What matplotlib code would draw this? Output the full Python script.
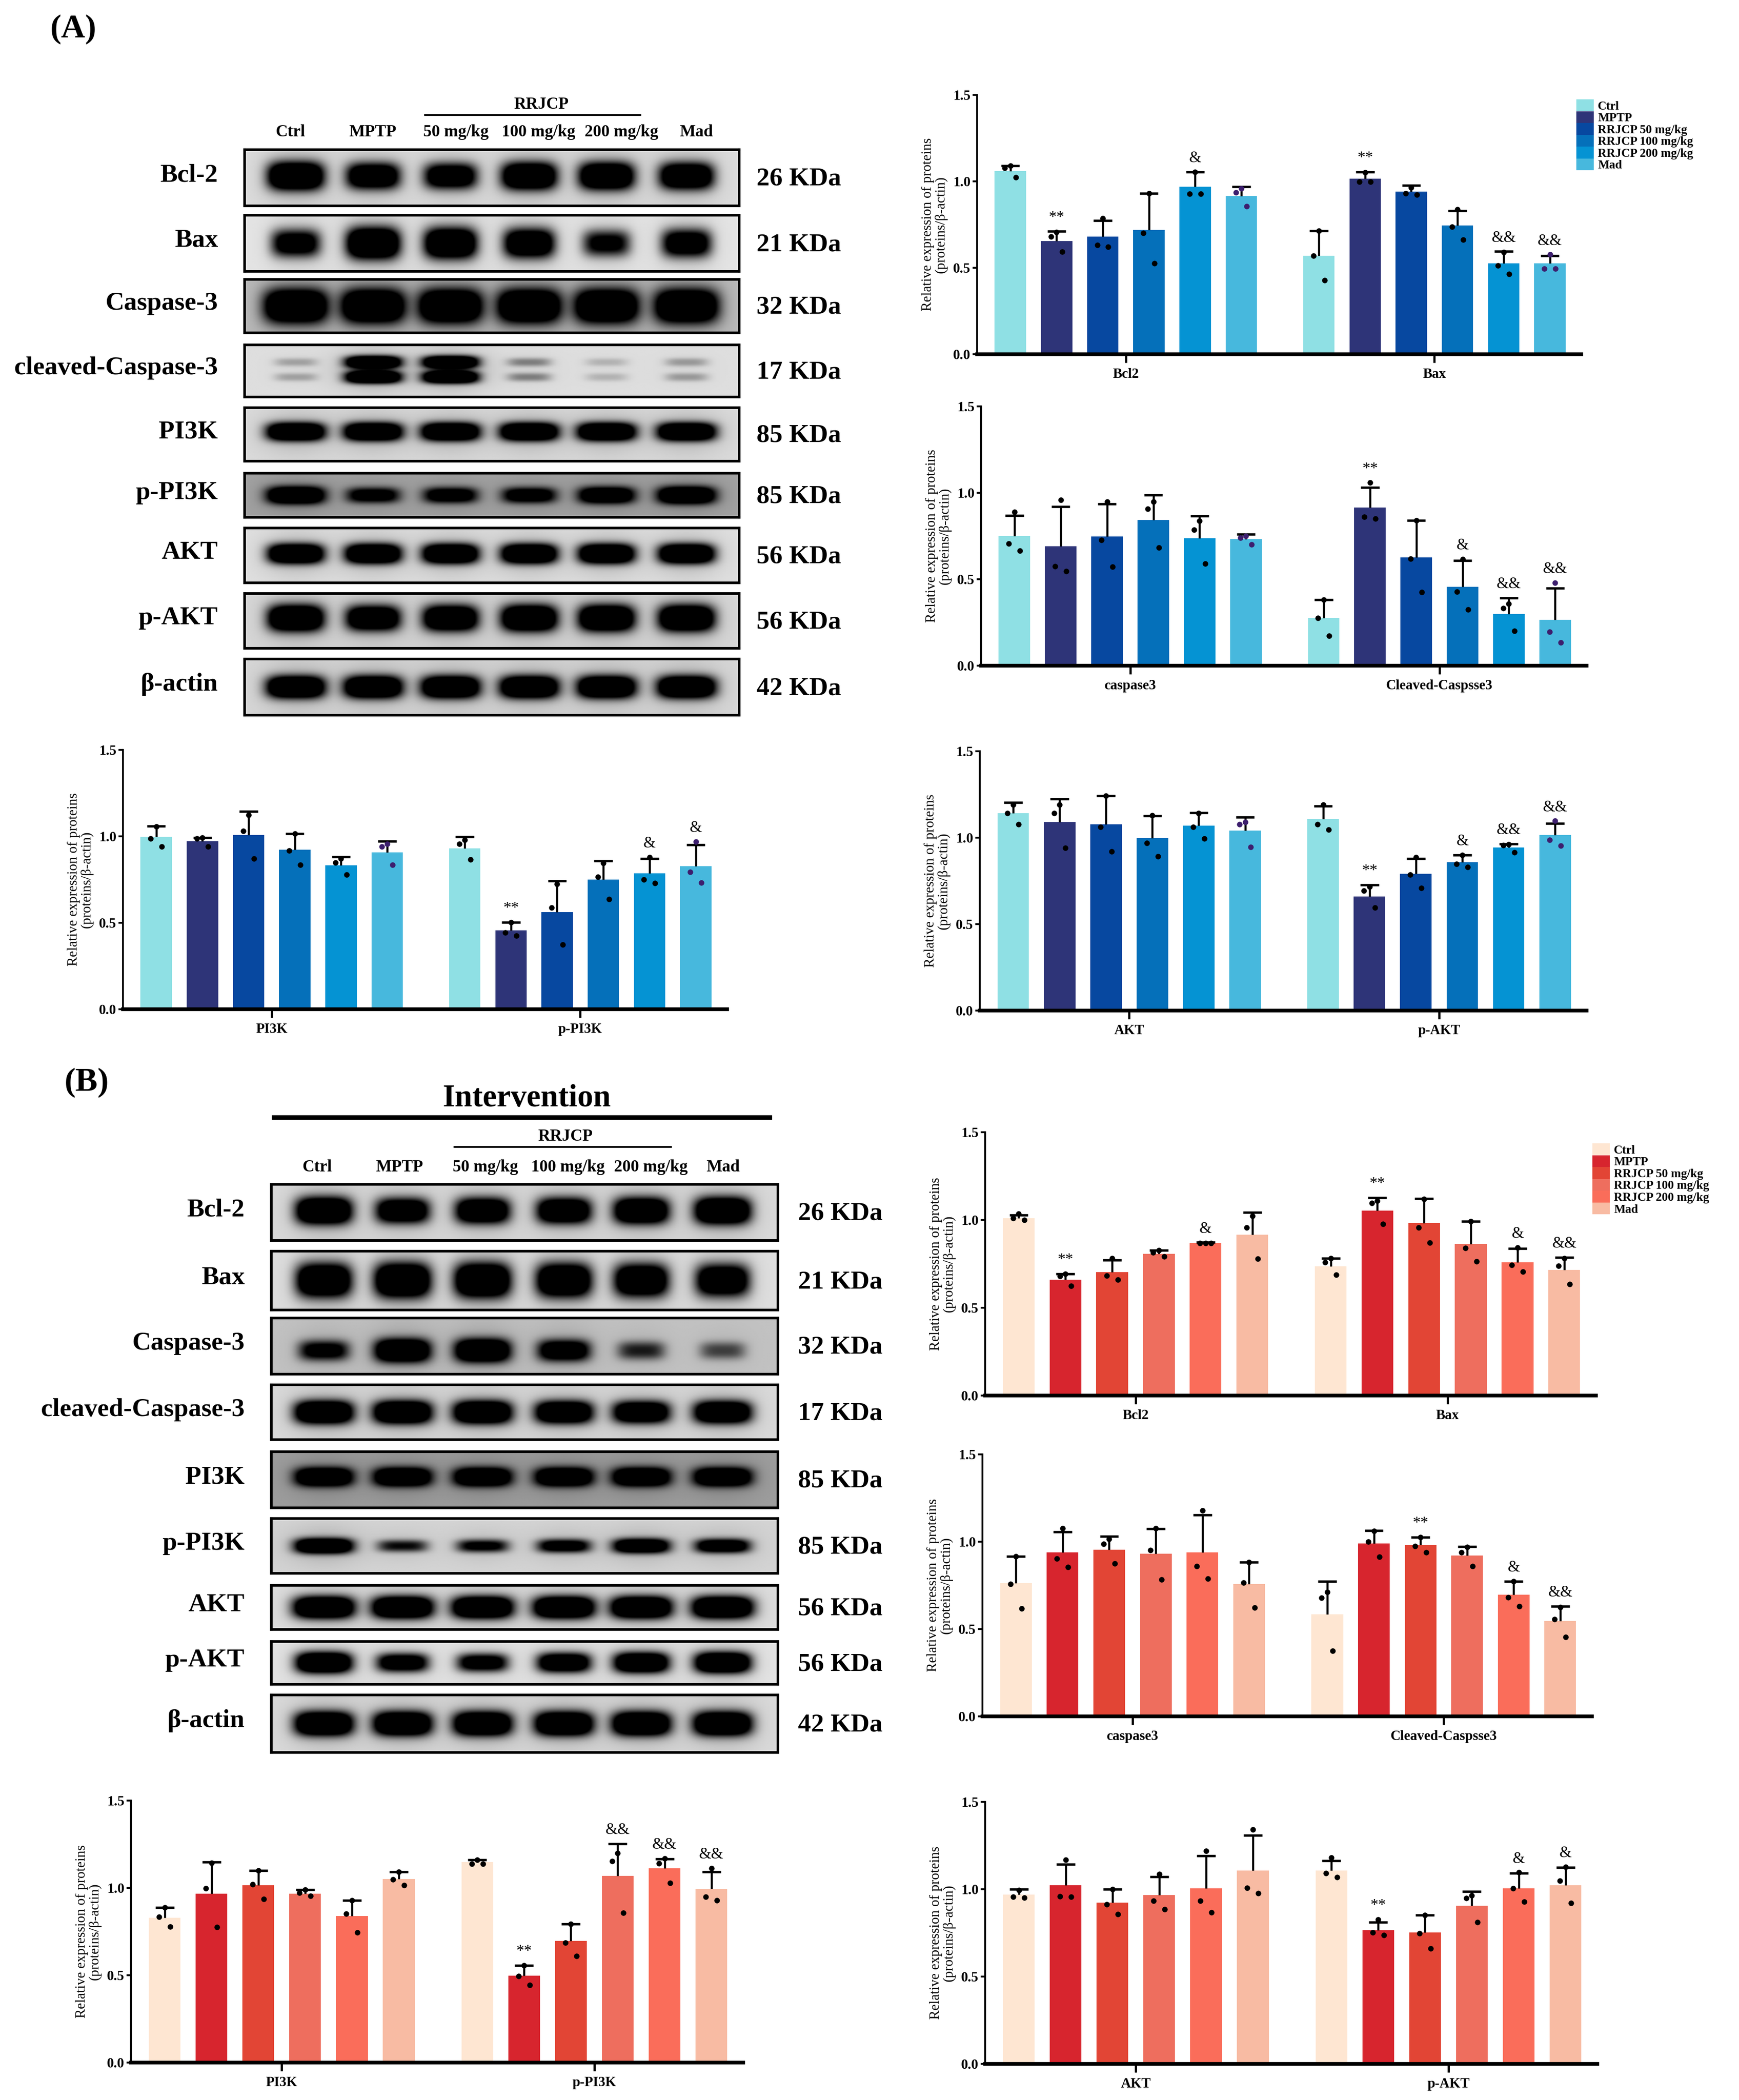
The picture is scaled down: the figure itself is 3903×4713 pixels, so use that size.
import numpy as np
import matplotlib.pyplot as plt
from matplotlib.patches import Patch

plt.rcParams['font.family'] = ['Liberation Serif', 'DejaVu Serif']
plt.rcParams['font.weight'] = 'bold'

# ---------------- data ----------------
groups = ['Ctrl', 'MPTP', 'RRJCP 50 mg/kg', 'RRJCP 100 mg/kg', 'RRJCP 200 mg/kg', 'Mad']
lane_labels = ['Ctrl', 'MPTP', '50 mg/kg', '100 mg/kg', '200 mg/kg', 'Mad']
blot_rows = ['Bcl-2', 'Bax', 'Caspase-3', 'cleaved-Caspase-3', 'PI3K', 'p-PI3K', 'AKT', 'p-AKT', 'β-actin']
blot_kda = ['26 KDa', '21 KDa', '32 KDa', '17 KDa', '85 KDa', '85 KDa', '56 KDa', '56 KDa', '42 KDa']

# relative band strength per lane (0 = absent, 1 = saturated)
bands_a = [
    [1.0, 0.85, 0.8, 0.95, 0.95, 0.9],
    [0.7, 1.0, 0.95, 0.85, 0.6, 0.75],
    [1.0, 1.0, 1.0, 1.0, 1.0, 1.0],
    [0.14, 1.0, 1.0, 0.22, 0.1, 0.16],
    [1.0, 1.0, 1.0, 1.0, 1.0, 1.0],
    [1.0, 0.7, 0.75, 0.75, 0.9, 1.0],
    [1.0, 1.0, 1.0, 1.0, 1.0, 1.0],
    [1.0, 0.9, 0.95, 1.0, 1.0, 1.0],
    [1.0, 1.0, 1.0, 1.0, 1.0, 1.0],
]
bands_b = [
    [1.0, 0.85, 0.9, 0.9, 0.95, 1.0],
    [0.95, 1.0, 1.0, 0.95, 0.9, 0.85],
    [0.65, 1.0, 1.0, 0.8, 0.45, 0.35],
    [1.0, 1.0, 1.0, 0.95, 0.9, 0.95],
    [1.0, 1.0, 1.0, 1.0, 1.0, 1.0],
    [1.0, 0.5, 0.6, 0.7, 0.9, 0.8],
    [1.0, 1.0, 1.0, 1.0, 1.0, 1.0],
    [1.0, 0.75, 0.7, 0.85, 0.95, 1.0],
    [1.0, 1.0, 1.0, 1.0, 1.0, 1.0],
]

# ---- panel A quantification ----
a1_names = ['Bcl2', 'Bax']
a1_mean = [[1.06, 0.655, 0.68, 0.72, 0.97, 0.915], [0.57, 1.015, 0.94, 0.745, 0.525, 0.525]]
a1_err = [[0.03, 0.056, 0.093, 0.21, 0.083, 0.054], [0.144, 0.04, 0.036, 0.085, 0.07, 0.045]]
a1_pts = [[[1.09, 1.078, 1.022], [0.706, 0.68, 0.592], [0.785, 0.632, 0.62],
           [0.93, 0.70, 0.527], [1.055, 0.929, 0.929], [0.96, 0.935, 0.855]],
          [[0.713, 0.57, 0.427], [1.052, 0.998, 0.998], [0.964, 0.93, 0.923],
           [0.838, 0.737, 0.663], [0.59, 0.514, 0.465], [0.577, 0.496, 0.496]]]
a1_sig = [['', '**', '', '', '&', ''], ['', '**', '', '', '&&', '&&']]

a2_names = ['caspase3', 'Cleaved-Caspsse3']
a2_mean = [[0.751, 0.691, 0.747, 0.844, 0.736, 0.731], [0.277, 0.916, 0.627, 0.457, 0.298, 0.266]]
a2_err = [[0.118, 0.228, 0.189, 0.142, 0.131, 0.03], [0.105, 0.115, 0.213, 0.15, 0.095, 0.183]]
a2_pts = [[[0.89, 0.705, 0.665], [0.96, 0.575, 0.546], [0.948, 0.726, 0.572],
           [0.948, 0.908, 0.682], [0.838, 0.786, 0.59], [0.751, 0.74, 0.70]],
          [[0.381, 0.277, 0.173], [1.058, 0.861, 0.85], [0.839, 0.618, 0.424],
           [0.617, 0.428, 0.326], [0.359, 0.333, 0.202], [0.48, 0.197, 0.133]]]
a2_sig = [['', '', '', '', '', ''], ['', '**', '', '&', '&&', '&&']]

a3_names = ['PI3K', 'p-PI3K']
a3_mean = [[0.998, 0.972, 1.009, 0.923, 0.832, 0.908], [0.931, 0.457, 0.561, 0.749, 0.786, 0.827]]
a3_err = [[0.06, 0.02, 0.136, 0.092, 0.05, 0.064], [0.067, 0.046, 0.18, 0.108, 0.085, 0.124]]
a3_pts = [[[1.056, 0.986, 0.942], [0.992, 0.986, 0.942], [1.124, 1.032, 0.871],
           [1.016, 0.917, 0.836], [0.871, 0.847, 0.778], [0.957, 0.94, 0.836]],
          [[0.98, 0.957, 0.865], [0.503, 0.443, 0.425], [0.723, 0.587, 0.373],
           [0.845, 0.766, 0.636], [0.88, 0.749, 0.729], [0.969, 0.795, 0.732]]]
a3_sig = [['', '', '', '', '', ''], ['', '**', '', '', '&', '&']]

a4_names = ['AKT', 'p-AKT']
a4_mean = [[1.143, 1.09, 1.078, 0.998, 1.07, 1.042], [1.109, 0.661, 0.791, 0.859, 0.943, 1.016]]
a4_err = [[0.06, 0.134, 0.163, 0.128, 0.075, 0.076], [0.075, 0.066, 0.089, 0.041, 0.022, 0.067]]
a4_pts = [[[1.19, 1.143, 1.078], [1.19, 1.143, 0.94], [1.242, 1.061, 0.92],
           [1.13, 0.97, 0.893], [1.143, 1.061, 0.995], [1.09, 1.078, 0.947]],
          [[1.19, 1.078, 1.046], [0.716, 0.693, 0.595], [0.887, 0.785, 0.71],
           [0.90, 0.849, 0.831], [0.962, 0.956, 0.916], [1.097, 0.988, 0.953]]]
a4_sig = [['', '', '', '', '', ''], ['', '**', '', '&', '&&', '&&']]

# ---- panel B quantification ----
b1_names = ['Bcl2', 'Bax']
b1_mean = [[1.009, 0.659, 0.703, 0.806, 0.867, 0.916], [0.736, 1.054, 0.982, 0.864, 0.759, 0.715]]
b1_err = [[0.019, 0.034, 0.068, 0.021, 0.005, 0.128], [0.045, 0.073, 0.139, 0.129, 0.078, 0.073]]
b1_pts = [[[1.036, 1.011, 0.999], [0.693, 0.68, 0.625], [0.781, 0.683, 0.659],
           [0.827, 0.815, 0.791], [0.867, 0.867, 0.867], [1.023, 0.956, 0.778]],
          [[0.781, 0.76, 0.687], [1.109, 1.097, 0.978], [1.12, 0.956, 0.87],
           [0.993, 0.84, 0.764], [0.842, 0.744, 0.705], [0.781, 0.739, 0.634]]]
b1_sig = [['', '**', '', '', '&', ''], ['', '**', '', '', '&', '&&']]

b2_names = ['caspase3', 'Cleaved-Caspsse3']
b2_mean = [[0.764, 0.94, 0.955, 0.932, 0.94, 0.757], [0.585, 0.989, 0.981, 0.92, 0.696, 0.545]]
b2_err = [[0.153, 0.115, 0.075, 0.143, 0.213, 0.126], [0.189, 0.074, 0.045, 0.052, 0.078, 0.086]]
b2_pts = [[[0.917, 0.757, 0.617], [1.076, 0.904, 0.855], [1.016, 0.986, 0.876],
           [1.076, 0.952, 0.782], [1.179, 0.86, 0.789], [0.883, 0.766, 0.622]],
          [[0.711, 0.679, 0.376], [1.061, 1.0, 0.912], [1.026, 0.975, 0.94],
           [0.969, 0.938, 0.86], [0.774, 0.682, 0.631], [0.626, 0.556, 0.453]]]
b2_sig = [['', '', '', '', '', ''], ['', '', '**', '', '&', '&&']]

b3_names = ['PI3K', 'p-PI3K']
b3_mean = [[0.829, 0.968, 1.015, 0.968, 0.839, 1.052], [1.148, 0.497, 0.697, 1.069, 1.111, 0.995]]
b3_err = [[0.058, 0.179, 0.085, 0.021, 0.09, 0.041], [0.012, 0.06, 0.096, 0.183, 0.054, 0.098]]
b3_pts = [[[0.887, 0.833, 0.779], [1.144, 0.997, 0.776], [1.10, 1.021, 0.935],
           [0.989, 0.971, 0.953], [0.929, 0.853, 0.745], [1.093, 1.048, 1.016]],
          [[1.16, 1.138, 1.138], [0.557, 0.494, 0.443], [0.793, 0.685, 0.609],
           [1.198, 1.153, 0.857], [1.168, 1.141, 1.028], [1.112, 0.949, 0.929]]]
b3_sig = [['', '', '', '', '', ''], ['', '**', '', '&&', '&&', '&&']]

b4_names = ['AKT', 'p-AKT']
b4_mean = [[0.97, 1.022, 0.924, 0.966, 1.006, 1.108], [1.108, 0.766, 0.752, 0.906, 1.006, 1.024]]
b4_err = [[0.03, 0.12, 0.076, 0.106, 0.186, 0.201], [0.054, 0.046, 0.1, 0.082, 0.086, 0.102]]
b4_pts = [[[0.996, 0.956, 0.952], [1.168, 0.958, 0.956], [1.0, 0.912, 0.856],
           [1.088, 0.934, 0.886], [1.22, 0.934, 0.868], [1.342, 1.008, 0.976]],
          [[1.18, 1.092, 1.068], [0.826, 0.752, 0.736], [0.852, 0.748, 0.66],
           [0.964, 0.948, 0.812], [1.096, 1.006, 0.928], [1.128, 1.048, 0.92]]]
b4_sig = [['', '', '', '', '', ''], ['', '**', '', '', '&', '&']]

colors_a = ['#8FE0E4', '#2E3478', '#0748A0', '#0570BA', '#0593D3', '#47B8DD']
colors_b = ['#FEE6D2', '#D7252E', '#E24535', '#EE6E5E', '#FA6D5A', '#F8BBA3']
dots_a = ['black'] * 5 + ['#3D1F6E']
dots_b = ['black'] * 6

# ---------------- layout helpers (reference units: 1 unit = 3 px) ----------------
W, H = 1301.3, 1571.0
fig = plt.figure(figsize=(W / 100, H / 100), dpi=300)


def rect(x0, y0, x1, y1):
    return [x0 / W, 1 - y1 / H, (x1 - x0) / W, (y1 - y0) / H]


def ftext(x, y, s, **kw):
    fig.text(x / W, 1 - y / H, s, **kw)


def fline(x0, x1, y, lw):
    fig.add_artist(plt.Line2D([x0 / W, x1 / W], [1 - y / H, 1 - y / H], color='black', lw=lw))


def draw_blot(x0, x1, tops, bots, lanes, bands, styles, label_x, kda_x):
    for i, (t, b) in enumerate(zip(tops, bots)):
        ax = fig.add_axes(rect(x0, t, x1, b))
        bg, wx, wy, ycs = styles[i]
        xs = np.linspace(x0, x1, 420)
        ys = np.linspace(0, 1, 90)
        X, Y = np.meshgrid(xs, ys)
        dark = np.zeros_like(X)
        hh = (b - t)
        for cx, s in zip(lanes, bands[i]):
            if s <= 0:
                continue
            wxe = wx * (0.72 + 0.28 * s)
            wye = wy * (0.6 + 0.4 * s) * hh
            for yc in ycs:
                dx = X - cx
                dy = (Y - yc) * hh
                core = np.exp(-(np.abs(dx) / wxe) ** 4) * np.exp(-(np.abs(dy) / wye) ** 2.5)
                halo = np.exp(-(dx / (1.25 * wxe)) ** 2 - (dy / (2.6 * wye)) ** 2)
                dark += 1.8 * s * core + 0.16 * s * halo
        img = bg * (1 - np.clip(dark, 0, 1))
        ax.imshow(img, cmap='gray', vmin=0, vmax=1, aspect='auto',
                  extent=(x0, x1, 1, 0), interpolation='bilinear')
        ax.set_xlim(x0, x1)
        ax.set_ylim(1, 0)
        ax.set_xticks([])
        ax.set_yticks([])
        for sp in ax.spines.values():
            sp.set_linewidth(1.4)
        yc = (t + b) / 2
        ftext(label_x, yc - 2, blot_rows[i], fontsize=14, ha='right', va='center')
        ftext(kda_x, yc + 1, blot_kda[i], fontsize=14, ha='left', va='center')


xpos = [np.arange(6) * 1.0, np.arange(6) * 1.0 + 6.68]
dot_off = np.array([0.0, -0.12, 0.12])


def draw_chart(r, names, means, errs, pts, sigs, colors, dcolors, legend=None):
    ax = fig.add_axes(rect(*r))
    for g in range(2):
        x = xpos[g]
        m = np.array(means[g])
        e = np.array(errs[g])
        ax.bar(x, m, width=0.68, color=colors, zorder=1)
        ax.vlines(x, m, m + e, color='black', lw=1.1, zorder=2)
        ax.hlines(m + e, x - 0.2, x + 0.2, color='black', lw=1.3, zorder=2)
        for j in range(6):
            ax.scatter(x[j] + dot_off, pts[g][j], s=9, color=dcolors[j], zorder=3,
                       linewidths=0, clip_on=False)
            if sigs[g][j]:
                top = max(m[j] + e[j], max(pts[g][j]))
                ax.text(x[j], top + 0.035, sigs[g][j], ha='center', va='bottom',
                        fontsize=8.5, fontweight='normal')
    ax.set_xlim(-0.72, 12.36)
    ax.set_ylim(0, 1.5)
    ax.set_yticks([0, 0.5, 1.0, 1.5])
    ax.set_yticklabels(['0.0', '0.5', '1.0', '1.5'], fontsize=7.5)
    ax.set_xticks([2.5, 9.18])
    ax.set_xticklabels(names, fontsize=7.5)
    ax.spines['top'].set_visible(False)
    ax.spines['right'].set_visible(False)
    ax.spines['left'].set_linewidth(1.0)
    ax.spines['bottom'].set_linewidth(2.0)
    ax.tick_params(axis='y', length=2.5, width=1.0, pad=1)
    ax.tick_params(axis='x', length=4.5, width=1.2, pad=3)
    ax.set_ylabel('Relative expression of proteins\n(proteins/β-actin)', fontsize=7.5,
                  linespacing=1.0, labelpad=3)
    if legend is not None:
        handles = [Patch(color=c) for c in colors]
        fig.legend(handles, groups, loc='upper left',
                   bbox_to_anchor=(legend[0] / W, 1 - legend[1] / H),
                   frameon=False, fontsize=6.5, handlelength=1.3, handleheight=0.9,
                   labelspacing=0.0, handletextpad=0.4, borderpad=0, borderaxespad=0)


# ---------------- panel A ----------------
ftext(55, 22, '(A)', fontsize=18, ha='center', va='center')
lanes_a = [221, 279, 337, 396, 454, 514]
for lx, lab in zip([217, 279, 341, 403, 465, 521], lane_labels):
    ftext(lx, 99, lab, fontsize=9, ha='center', va='center')
ftext(405, 78, 'RRJCP', fontsize=9, ha='center', va='center')
fline(318, 479, 86, 1.0)
styles_a = [(0.87, 21, 0.25, [0.47]), (0.9, 20, 0.28, [0.5]), (0.74, 24, 0.32, [0.5]),
            (0.87, 21, 0.12, [0.33, 0.62]), (0.86, 22, 0.17, [0.45]), (0.64, 22, 0.2, [0.5]),
            (0.88, 21, 0.18, [0.47]), (0.85, 21, 0.24, [0.45]), (0.85, 22, 0.2, [0.5])]
draw_blot(183, 553, [112, 161, 209, 258, 305, 354, 395, 444, 493],
          [154, 203, 249, 297, 345, 387, 436, 485, 535],
          lanes_a, bands_a, styles_a, 163, 566)

draw_chart((731, 71, 1183, 265), a1_names, a1_mean, a1_err, a1_pts, a1_sig,
           colors_a, dots_a, legend=(1180, 75))
draw_chart((734, 304, 1187, 498), a2_names, a2_mean, a2_err, a2_pts, a2_sig, colors_a, dots_a)
draw_chart((92, 561, 544, 755), a3_names, a3_mean, a3_err, a3_pts, a3_sig, colors_a, dots_a)
draw_chart((733, 562, 1187, 756), a4_names, a4_mean, a4_err, a4_pts, a4_sig, colors_a, dots_a)

# ---------------- panel B ----------------
ftext(65, 810, '(B)', fontsize=18, ha='center', va='center')
ftext(394, 822, 'Intervention', fontsize=17, ha='center', va='center')
fline(205, 576, 836, 2.4)
ftext(423, 850, 'RRJCP', fontsize=9, ha='center', va='center')
fline(340, 502, 858, 1.0)
lanes_b = [242, 301, 361, 422, 480, 541]
for lx, lab in zip([237, 299, 363, 425, 487, 541], lane_labels):
    ftext(lx, 873, lab, fontsize=9, ha='center', va='center')
styles_b = [(0.86, 21, 0.24, [0.47]), (0.88, 21, 0.29, [0.5]), (0.76, 21, 0.21, [0.58]),
            (0.86, 22, 0.21, [0.5]), (0.62, 22, 0.17, [0.45]), (0.83, 22, 0.14, [0.5]),
            (0.88, 23, 0.25, [0.5]), (0.9, 21, 0.24, [0.5]), (0.86, 22, 0.21, [0.5])]
draw_blot(203, 582, [886, 936, 986, 1036, 1086, 1136, 1186, 1228, 1268],
          [928, 980, 1028, 1077, 1128, 1177, 1219, 1260, 1311],
          lanes_b, bands_b, styles_b, 183, 597)

draw_chart((737, 847, 1194, 1044), b1_names, b1_mean, b1_err, b1_pts, b1_sig,
           colors_b, dots_b, legend=(1192, 856))
draw_chart((735, 1088, 1191, 1284), b2_names, b2_mean, b2_err, b2_pts, b2_sig, colors_b, dots_b)
draw_chart((98, 1347, 556, 1543), b3_names, b3_mean, b3_err, b3_pts, b3_sig, colors_b, dots_b)
draw_chart((737, 1348, 1195, 1544), b4_names, b4_mean, b4_err, b4_pts, b4_sig, colors_b, dots_b)

fig.savefig('out.png', dpi=300, facecolor='white')
